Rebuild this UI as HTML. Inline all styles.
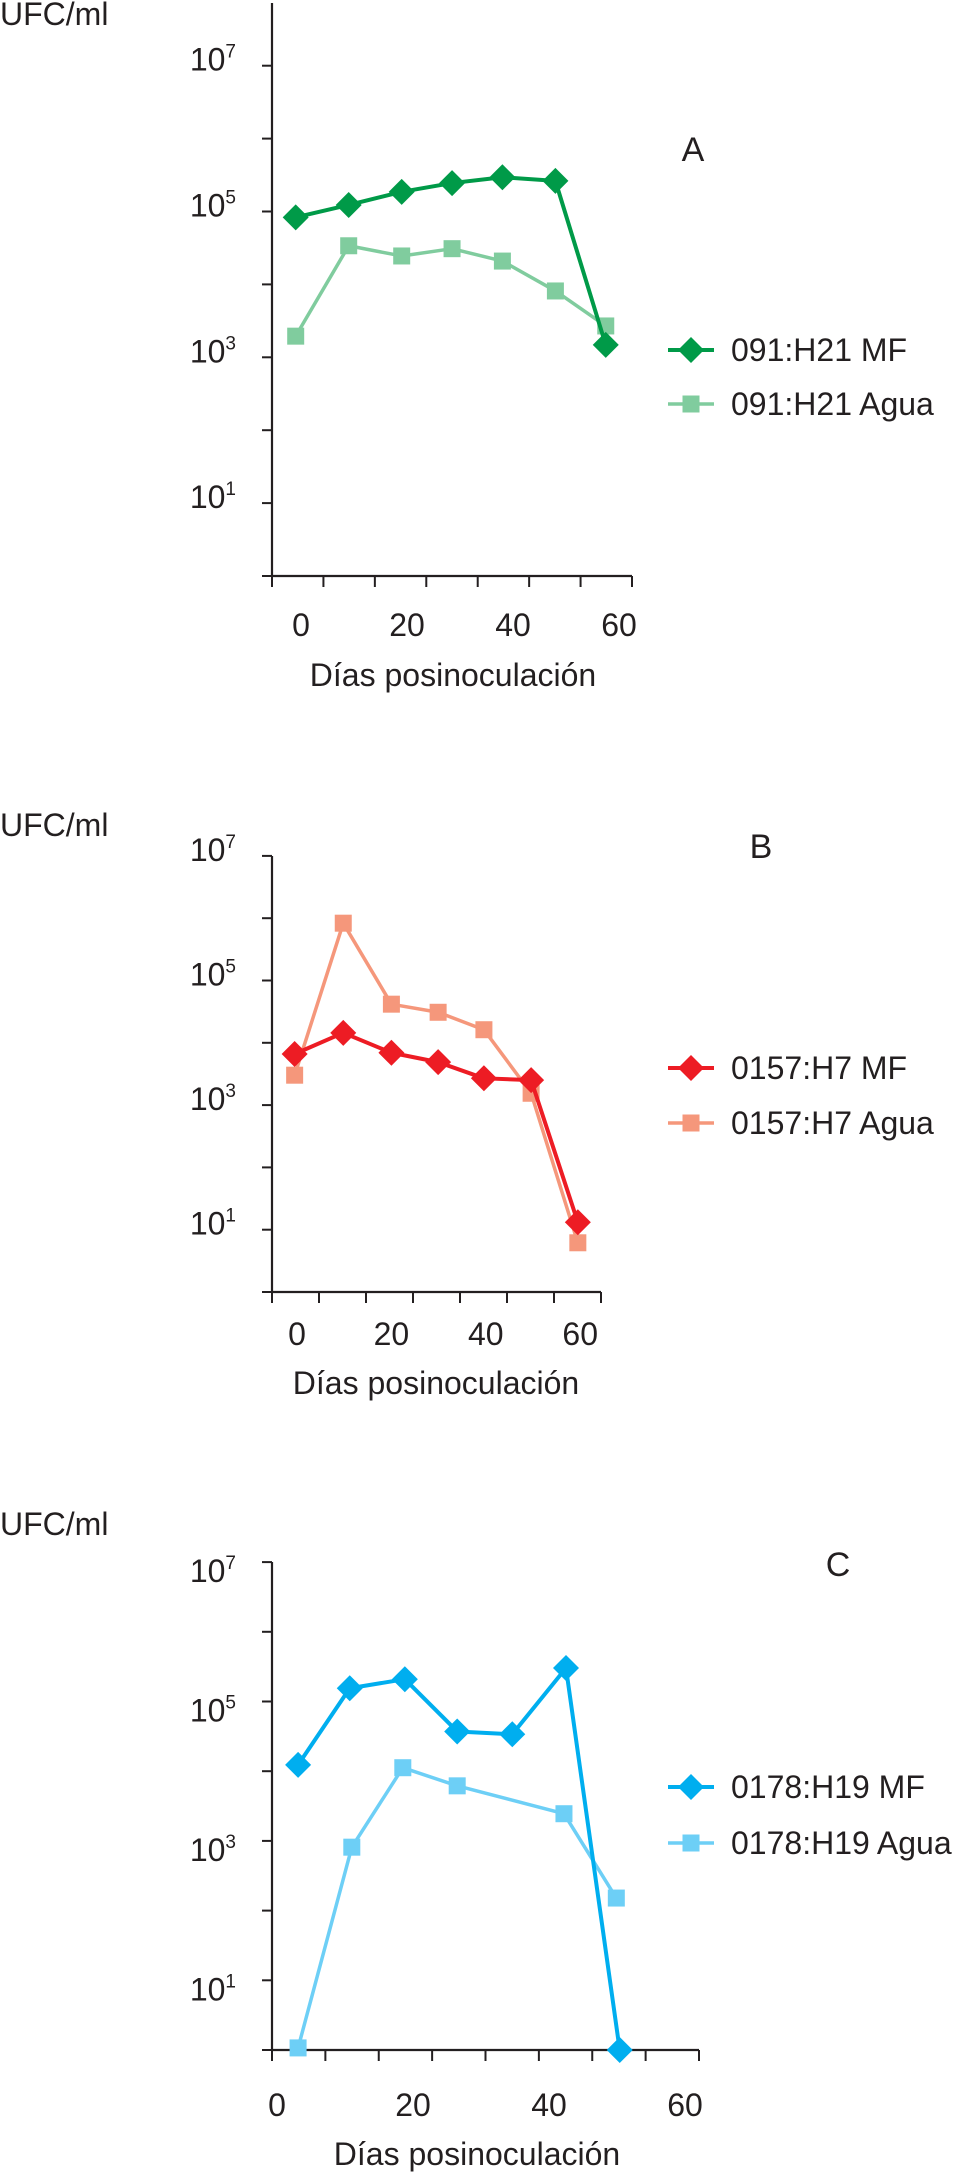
<!DOCTYPE html>
<html><head><meta charset="utf-8"><style>
html,body{margin:0;padding:0;background:#fff;}
svg{display:block;font-family:"Liberation Sans",Arial,sans-serif;}
</style></head><body>
<svg id="fig" width="959" height="2173" viewBox="0 0 959 2173"></svg>
<script>
// ---- Panel A data ----
const daysA = [-1, 9, 19, 28.5, 38, 48, 57.5];
const mfA = [4.92, 5.09, 5.27, 5.39, 5.47, 5.42, 3.17];
const aguaA = [3.29, 4.53, 4.39, 4.49, 4.32, 3.91, 3.43];
// ---- Panel B data ----
const daysB = [-0.5, 9.8, 20, 29.9, 39.6, 49.6, 59.5];
const mfB = [3.82, 4.16, 3.84, 3.69, 3.43, 3.40, 1.12];
const aguaB = [3.48, 5.92, 4.62, 4.49, 4.21, 3.19, 0.79];
// ---- Panel C data ----
const daysCmf = [3.1, 10.7, 18.8, 26.5, 34.6, 42.5, 50.4];
const mfC = [4.09, 5.19, 5.32, 4.57, 4.53, 5.48, 0.0];
const daysCagua = [3.1, 11, 18.5, 26.5, 42.2, 49.9];
const aguaC = [0.03, 2.91, 4.05, 3.79, 3.39, 2.18];
// ---- shared tick labels ----
const xTickVals = [0, 20, 40, 60];
const yLabelExps = [7, 5, 3, 1];

const NS = "http://www.w3.org/2000/svg";
const svg = document.getElementById("fig");
function mk(tag, attrs, parent) {
  const e = document.createElementNS(NS, tag);
  for (const k in attrs) e.setAttribute(k, attrs[k]);
  (parent || svg).appendChild(e);
  return e;
}
function txt(str, x, y, size, anchor, parent) {
  const t = mk("text", {x: x, y: y, "font-size": size, "text-anchor": anchor || "start", fill: "#231f20"}, parent);
  t.textContent = str;
  return t;
}

const panels = [
  {id: "a", letter: "A", ufcY: 25, top: 3, y0: 576, dec: 72.9, axEnd: 632, nTicks: 7,
   x0: 301, pxDay: 5.3, xlabY: 636, titleX: 453, titleY: 686, letterX: 693, letterY: 161,
   legY: [350, 404], yLabOff: 5,
   series: [
     {name: "091:H21 MF", days: daysA, vals: mfA, color: "#009a48", marker: "diamond", w: 4},
     {name: "091:H21 Agua", days: daysA, vals: aguaA, color: "#80cc9e", marker: "square", w: 3.5}]},
  {id: "b", letter: "B", ufcY: 836, top: 856, y0: 1292, dec: 62.3, axEnd: 601, nTicks: 7,
   x0: 297, pxDay: 4.72, xlabY: 1345, titleX: 436, titleY: 1394, letterX: 761, letterY: 858,
   legY: [1068, 1123], yLabOff: 5,
   series: [
     {name: "0157:H7 MF", days: daysB, vals: mfB, color: "#ed1c24", marker: "diamond", w: 4},
     {name: "0157:H7 Agua", days: daysB, vals: aguaB, color: "#f5977b", marker: "square", w: 3.5}]},
  {id: "c", letter: "C", ufcY: 1535, top: 1562, y0: 2050, dec: 69.7, axEnd: 699, nTicks: 8,
   x0: 277, pxDay: 6.8, xlabY: 2116, titleX: 477, titleY: 2165, letterX: 838, letterY: 1576,
   legY: [1787, 1843], yLabOff: 20,
   series: [
     {name: "0178:H19 MF", days: daysCmf, vals: mfC, color: "#00aeef", marker: "diamond", w: 4},
     {name: "0178:H19 Agua", days: daysCagua, vals: aguaC, color: "#6dcff6", marker: "square", w: 3.5}]}
];

function marker(g, type, x, y, color) {
  if (type === "diamond") {
    const s = 13;
    const m = mk("polygon", {points: `${x},${y-s} ${x+s},${y} ${x},${y+s} ${x-s},${y}`, fill: color}, g);
    
    
  } else {
    const s = 17;
    const m = mk("rect", {x: x - s/2, y: y - s/2, width: s, height: s, fill: color}, g);
    
    
  }
}

panels.forEach(p => {
  const AX = 272;
  const xS = d => p.x0 + p.pxDay * d;
  const yS = l => p.y0 - p.dec * l;
  const g = mk("g", {});
  
  

  const u = txt("UFC/ml", 0, p.ufcY, 32, "start", g);
  
  

  const yax = mk("line", {x1: AX, y1: p.top, x2: AX, y2: p.y0 + 1, stroke: "#231f20", "stroke-width": 2.2}, g);
  
  
  for (let l = 0; l <= 7; l++) {
    const tk = mk("line", {x1: AX - 10, y1: yS(l), x2: AX, y2: yS(l), stroke: "#231f20", "stroke-width": 2}, g);
    
    
  }
  yLabelExps.forEach(e => {
    const t = mk("text", {x: 236, y: yS(e) + p.yLabOff, "font-size": 32, "text-anchor": "end", fill: "#231f20"}, g);
    
    
    const a = mk("tspan", {}, t); a.textContent = "10";
    const b = mk("tspan", {"font-size": 19, dy: -13}, t); b.textContent = String(e);
  });

  const xax = mk("line", {x1: AX - 1, y1: p.y0, x2: p.axEnd, y2: p.y0, stroke: "#231f20", "stroke-width": 2.2}, g);
  
  
  for (let i = 0; i <= p.nTicks; i++) {
    const tx = AX + (p.axEnd - AX) * i / p.nTicks;
    const tk = mk("line", {x1: tx, y1: p.y0, x2: tx, y2: p.y0 + 11, stroke: "#231f20", "stroke-width": 2}, g);
    
    
  }
  xTickVals.forEach(v => {
    const t = txt(String(v), xS(v), p.xlabY, 32, "middle", g);
    
    
  });
  const xt = txt("Días posinoculación", p.titleX, p.titleY, 32, "middle", g);
  
  

  const lt = txt(p.letter, p.letterX, p.letterY, 34, "middle", g);
  
  

  // series: draw Agua first so MF on top
  [1, 0].forEach(si => {
    const s = p.series[si];
    const sg = mk("g", {}, g);
    
    
    const pts = s.vals.map((v, i) => xS(s.days[i]) + "," + yS(v)).join(" ");
    const pl = mk("polyline", {points: pts, fill: "none", stroke: s.color, "stroke-width": s.w, "stroke-linejoin": "round"}, sg);
    
    
    s.vals.forEach((v, i) => marker(sg, s.marker, xS(s.days[i]), yS(v), s.color));
  });

  // legend
  p.series.forEach((s, i) => {
    const lg = mk("g", {}, g);
    
    
    const ly = p.legY[i];
    mk("line", {x1: 668, y1: ly, x2: 714, y2: ly, stroke: s.color, "stroke-width": s.w}, lg);
    marker(lg, s.marker, 691, ly, s.color);
    txt(s.name, 731, ly + 11, 32, "start", lg);
  });
});
</script>
</body></html>
